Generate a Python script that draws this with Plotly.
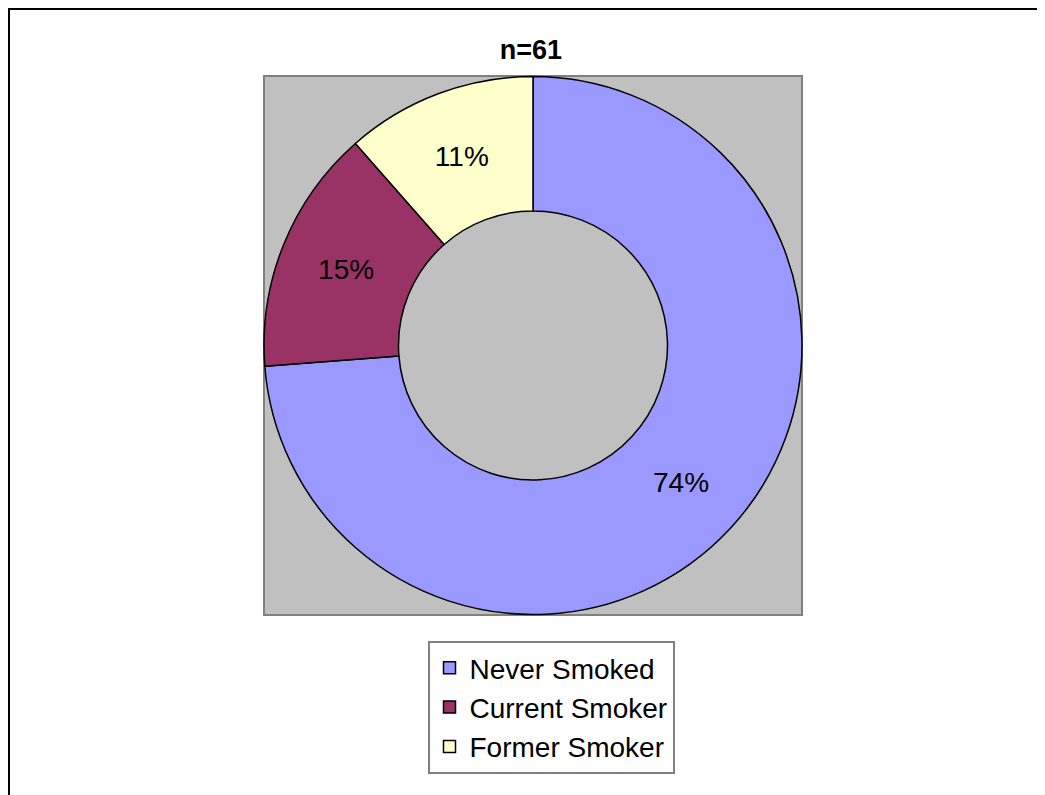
import plotly.graph_objects as go

categories = ["Never Smoked", "Current Smoker", "Former Smoker"]
counts = [45, 9, 7]
colors = ["#9999FF", "#993366", "#FFFFCC"]
title_text = "n=61"

W, H = 1045, 795
OFF = 8  # page body margin
def px_x(v):
    return (v - OFF) / W
def px_y(v):
    return 1 - (v - OFF) / H

FONT = "Liberation Sans, Arial"

fig = go.Figure()
fig.add_trace(go.Pie(
    labels=categories,
    values=counts,
    sort=False,
    direction="clockwise",
    rotation=0,
    hole=0.5,
    marker=dict(colors=colors, line=dict(color="black", width=1.5)),
    texttemplate="%{percent:.0%}",
    textposition="inside",
    insidetextorientation="horizontal",
    textfont=dict(family=FONT, size=28, color="black"),
    domain=dict(x=[px_x(264), px_x(802)], y=[px_y(615), px_y(76)]),
    hoverinfo="label+percent",
))

fig.update_layout(
    width=W, height=H,
    margin=dict(l=0, r=0, t=0, b=0),
    paper_bgcolor="white",
    plot_bgcolor="white",
    font=dict(family=FONT, size=28, color="black"),
    title=dict(text="<b>" + title_text + "</b>", x=px_x(531), xanchor="center",
               y=px_y(50), yanchor="middle",
               font=dict(family=FONT, size=27, color="black")),
    legend=dict(
        x=px_x(551), xanchor="center", y=px_y(641), yanchor="top",
        bgcolor="white", bordercolor="#808080", borderwidth=2,
        font=dict(family=FONT, size=28, color="black"),
        traceorder="normal",
    ),
    shapes=[
        dict(type="rect", xref="paper", yref="paper",
             x0=px_x(264), x1=px_x(802), y0=px_y(615), y1=px_y(76),
             fillcolor="#C0C0C0", line=dict(color="#808080", width=2), layer="below"),
        dict(type="rect", xref="paper", yref="paper",
             x0=px_x(9), x1=1.02, y0=-0.02, y1=px_y(9),
             fillcolor="rgba(0,0,0,0)", line=dict(color="black", width=2), layer="above"),
    ],
)

fig.write_html("out.html")
